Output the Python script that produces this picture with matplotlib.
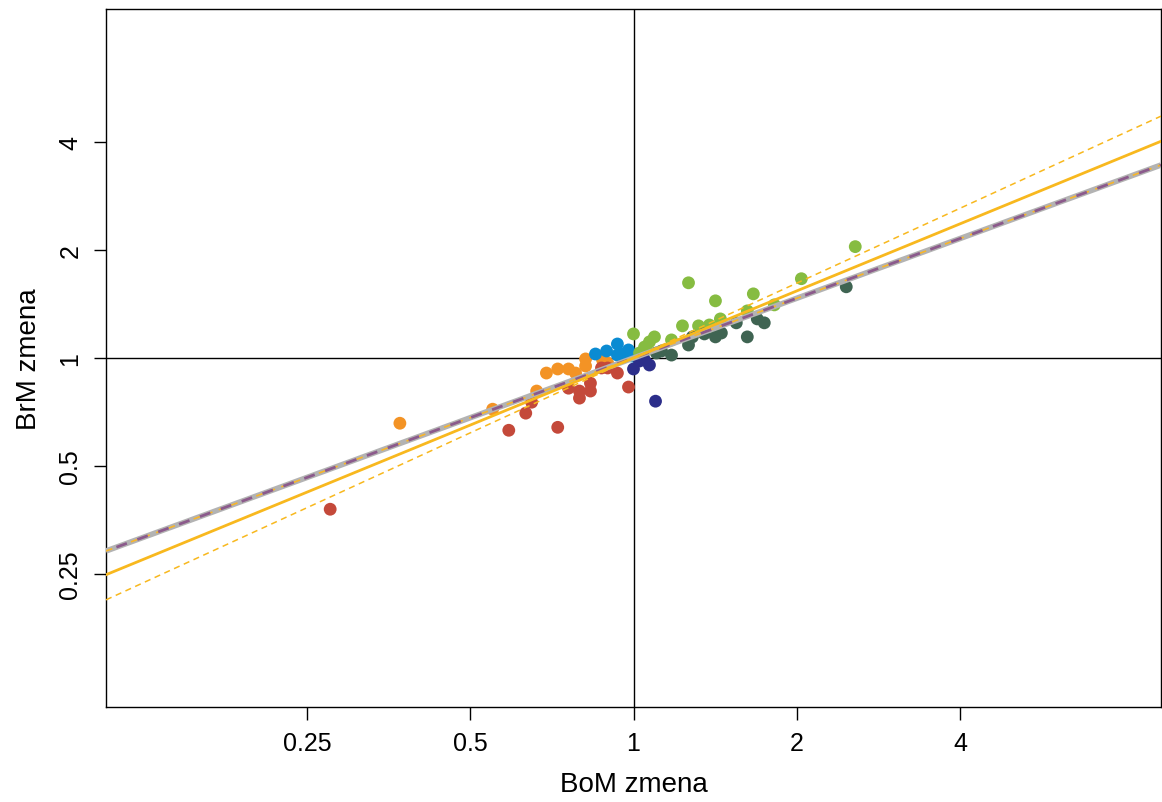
import matplotlib
matplotlib.use("Agg")
import matplotlib.pyplot as plt
import numpy as np

plt.rcParams['font.family'] = ['Liberation Sans', 'DejaVu Sans']

# points, per group (BoM change, BrM change)
orange_x = [0.371, 0.550, 0.663, 0.691, 0.725, 0.759, 0.782, 0.816, 0.816, 0.877, 0.896]
orange_y = [0.658, 0.720, 0.809, 0.908, 0.932, 0.932, 0.908, 0.994, 0.950, 0.987, 0.968]

red_x = [0.276, 0.589, 0.725, 0.633, 0.649, 0.759, 0.795, 0.795, 0.833, 0.833, 0.873, 0.896, 0.934, 0.979]
red_y = [0.379, 0.629, 0.641, 0.702, 0.753, 0.824, 0.809, 0.773, 0.851, 0.809, 0.938, 0.938, 0.908, 0.830]

blue_x = [0.851, 0.892, 0.934, 0.934, 0.958, 0.979, 0.992, 1.013]
blue_y = [1.026, 1.046, 1.094, 1.019, 1.026, 1.053, 1.013, 1.006]

lgreen_x = [1.263, 1.663, 1.416, 2.039, 2.563, 1.446, 1.621, 1.818, 1.380, 1.318, 1.231,
            1.175, 1.093, 1.070, 1.048, 1.000, 1.026, 1.057]
lgreen_y = [1.620, 1.509, 1.443, 1.663, 2.043, 1.285, 1.353, 1.406, 1.236, 1.229, 1.229,
            1.123, 1.145, 1.109, 1.073, 1.167, 1.033, 1.053]

dgreen_x = [1.263, 1.175, 1.284, 1.351, 1.416, 1.452, 1.547, 1.621, 1.691, 1.742, 2.467, 1.126, 1.102]
dgreen_y = [1.087, 1.019, 1.145, 1.167, 1.145, 1.174, 1.253, 1.145, 1.285, 1.253, 1.579, 1.046, 1.033]

navy_x = [1.000, 1.070, 1.048, 1.026, 1.098]
navy_y = [0.932, 0.956, 0.987, 0.981, 0.758]

# fitted power-law slopes (y = x**b)
slope_gray = 0.553
slope_orange = 0.621
slope_orange_dash = 0.693

ticks = [0.25, 0.5, 1, 2, 4]
tick_labels = ["0.25", "0.5", "1", "2", "4"]

lim = 2 ** 3.23

fig = plt.figure(figsize=(11.62, 8.03), dpi=100)
ax = fig.add_axes([106 / 1162, 1 - 708 / 803, 1055 / 1162, 698 / 803])
ax.set_xscale('log', base=2)
ax.set_yscale('log', base=2)
ax.set_xlim(1 / lim, lim)
ax.set_ylim(1 / lim, lim)

groups = [
    (orange_x, orange_y, '#F39325'),
    (red_x, red_y, '#C4493A'),
    (blue_x, blue_y, '#0A8BD2'),
    (lgreen_x, lgreen_y, '#86BC41'),
    (dgreen_x, dgreen_y, '#3F6452'),
    (navy_x, navy_y, '#2C2E8A'),
]
for gx, gy, col in groups:
    ax.scatter(gx, gy, s=85, color=col, edgecolors='none', zorder=2)

ax.axhline(1, color='black', lw=1, zorder=1)
ax.axvline(1, color='black', lw=1, zorder=1)

xx = np.array([1 / lim, lim])
ax.plot(xx, xx ** slope_gray, color='#B3B3B3', lw=4, zorder=3, solid_capstyle='butt')
ax.plot(xx, xx ** slope_gray, color='#F7B52A', lw=1.2, ls=(0, (4, 4)), zorder=4)
ax.plot(xx, xx ** slope_gray, color='#8B5A8C', lw=2, ls=(4, (4, 4)), zorder=4)
ax.plot(xx, xx ** slope_orange, color='#F8B81E', lw=2, zorder=4)
ax.plot(xx, xx ** slope_orange_dash, color='#F8B81E', lw=1.1, ls=(0, (4, 3)), zorder=4)

ax.set_xticks(ticks)
ax.set_xticklabels(tick_labels)
ax.set_yticks(ticks)
ax.set_yticklabels(tick_labels, rotation=90, va='center')
ax.minorticks_off()
ax.tick_params(axis='both', length=9, width=1, labelsize=18, pad=8)
for sp in ax.spines.values():
    sp.set_linewidth(1)

ax.set_xlabel("BoM zmena", fontsize=20, labelpad=12)
ax.set_ylabel("BrM zmena", fontsize=20, labelpad=12)

fig.savefig("out.png", dpi=100)
